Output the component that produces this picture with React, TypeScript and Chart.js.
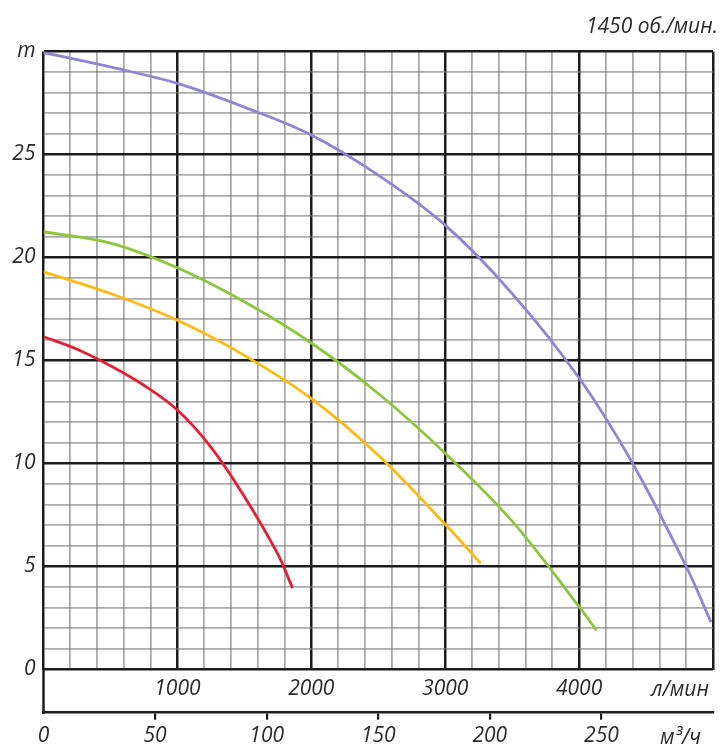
import React, { useEffect, useRef } from "react";
import { Chart, registerables } from "chart.js";

Chart.register(...registerables);

// Flow in l/min (primary x), head in m
const purpleFlow = [0, 500, 1000, 1500, 2000, 2500, 3000, 3500, 4000, 4400, 4800, 4985];
const purpleHead = [29.95, 29.25, 28.45, 27.3, 25.95, 24.0, 21.57, 18.25, 14.15, 10.0, 5.0, 2.3];

const greenFlow = [0, 500, 1000, 1500, 2000, 2500, 3000, 3500, 4000, 4130];
const greenHead = [21.25, 20.7, 19.5, 17.85, 15.85, 13.4, 10.5, 7.2, 3.05, 1.9];

const yellowFlow = [0, 500, 1000, 1500, 2000, 2500, 3000, 3265];
const yellowHead = [19.3, 18.25, 16.95, 15.25, 13.15, 10.4, 7.05, 5.15];

const redFlow = [0, 250, 500, 750, 1000, 1250, 1500, 1750, 1860];
const redHead = [16.15, 15.55, 14.75, 13.8, 12.6, 10.8, 8.4, 5.6, 3.95];

const lpmTickLabels = [1000, 2000, 3000, 4000];
const m3hTickLabels = [0, 50, 100, 150, 200, 250];
const headTickLabels = [0, 5, 10, 15, 20, 25];

const speedLabel = "1450 об./мин.";
const lpmUnit = "л/мин";
const m3hUnit = "м³/ч";
const headUnit = "m";

const FONT = "'Open Sans', 'Noto Sans', sans-serif";
const TEXT = "#2a2a2a";
const MAJOR = "#1c1c1c";
const MINOR = "rgba(120,120,120,0.62)";

const toPoints = (xs: number[], ys: number[]) => xs.map((x, i) => ({ x, y: ys[i] }));

const extras = {
  id: "extras",
  afterDraw(chart: any) {
    const ctx = chart.ctx;
    const area = chart.chartArea;
    const x2 = chart.scales.x2;
    ctx.save();
    ctx.strokeStyle = MAJOR;
    ctx.lineWidth = 2.5;
    ctx.beginPath();
    ctx.moveTo(area.left, area.bottom);
    ctx.lineTo(area.left, x2.top + 1.2);
    ctx.stroke();
    ctx.fillStyle = TEXT;
    ctx.font = `italic 21px ${FONT}`;
    ctx.textBaseline = "middle";
    ctx.textAlign = "right";
    ctx.fillText(lpmUnit, area.right - 4, area.bottom + 21);
    ctx.fillText(m3hUnit, area.right - 12, x2.top + 25);
    ctx.font = `italic 21px ${FONT}`;
    ctx.fillText(speedLabel, 718, 27);
    ctx.restore();
  },
};

export default function App() {
  const ref = useRef<HTMLCanvasElement>(null);
  useEffect(() => {
    if (!ref.current) return;
    const tickFont = { family: FONT, size: 21, style: "italic" as const };
    const chart = new Chart(ref.current, {
      type: "line",
      data: {
        datasets: [
          { data: toPoints(purpleFlow, purpleHead), borderColor: "rgb(140,134,212)" },
          { data: toPoints(greenFlow, greenHead), borderColor: "rgb(140,198,63)" },
          { data: toPoints(yellowFlow, yellowHead), borderColor: "rgb(253,186,20)" },
          { data: toPoints(redFlow, redHead), borderColor: "rgb(226,32,52)" },
        ].map((d) => ({
          ...d,
          borderWidth: 2.8,
          pointRadius: 0,
          fill: false,
          tension: 0.35,
          xAxisID: "x",
          yAxisID: "y",
        })),
      },
      options: {
        animation: false,
        responsive: false,
        devicePixelRatio: 1,
        layout: { padding: { top: 51.5, right: 4.5, left: 0, bottom: 0 } },
        plugins: { legend: { display: false }, tooltip: { enabled: false } },
        scales: {
          x: {
            type: "linear",
            position: "bottom",
            weight: 0,
            min: 0,
            max: 5000,
            afterFit: (s: any) => {
              s.height = 43.2;
            },
            ticks: {
              stepSize: 200,
              autoSkip: false,
              maxRotation: 0,
              padding: 7,
              color: TEXT,
              font: tickFont,
              callback: (v: any) => (lpmTickLabels.includes(Number(v)) ? String(v) : ""),
            },
            grid: {
              drawTicks: false,
              color: (c: any) => (c.tick && c.tick.value % 1000 === 0 ? MAJOR : MINOR),
              lineWidth: (c: any) => (c.tick && c.tick.value % 1000 === 0 ? 2.5 : 1.8),
            },
            border: { display: false },
          },
          x2: {
            type: "linear",
            position: "bottom",
            weight: 1,
            min: 0,
            max: 300,
            afterFit: (s: any) => {
              s.height = 34.3;
            },
            ticks: {
              stepSize: 50,
              autoSkip: false,
              maxRotation: 0,
              padding: 4,
              color: TEXT,
              font: tickFont,
              callback: (v: any) => (m3hTickLabels.includes(Number(v)) ? String(v) : ""),
            },
            grid: {
              drawOnChartArea: false,
              drawTicks: true,
              tickLength: 7,
              color: (c: any) => (c.tick && c.tick.value > 0 && c.tick.value < 300 ? MAJOR : "rgba(0,0,0,0)"),
              lineWidth: 2.2,
            },
            border: { display: true, color: MAJOR, width: 2.5 },
          },
          y: {
            type: "linear",
            position: "left",
            min: 0,
            max: 30,
            afterFit: (s: any) => {
              s.width = 43.5;
            },
            ticks: {
              stepSize: 1,
              autoSkip: false,
              padding: 8,
              color: TEXT,
              font: tickFont,
              callback: (v: any) => {
                const n = Number(v);
                if (n === 30) return headUnit;
                return headTickLabels.includes(n) ? String(n) : "";
              },
            },
            grid: {
              drawTicks: false,
              color: (c: any) => (c.tick && c.tick.value % 5 === 0 ? MAJOR : MINOR),
              lineWidth: (c: any) => (c.tick && c.tick.value % 5 === 0 ? 2.5 : 1.8),
            },
            border: { display: false },
          },
        },
      },
      plugins: [extras],
    });
    return () => chart.destroy();
  }, []);

  return (
    <div style={{ position: "fixed", left: 0, top: 0, width: 720, height: 747, background: "#fff" }}>
      <canvas ref={ref} width={720} height={747} style={{ display: "block" }} />
    </div>
  );
}
